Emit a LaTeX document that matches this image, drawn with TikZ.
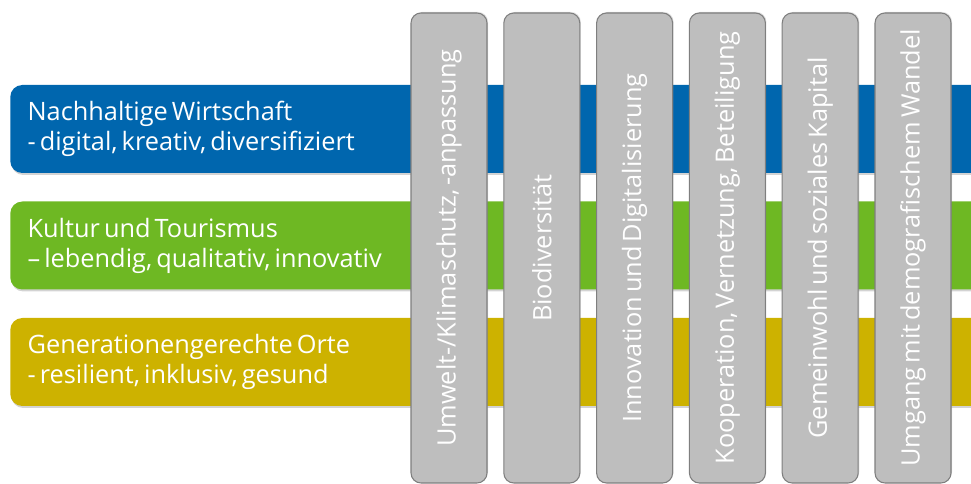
\documentclass[tikz,border=0pt]{standalone}
\usepackage{fontspec}
\setmainfont{Open Sans}[WordSpace=0.6]
\usepackage{xcolor}
\usepackage{tikz}
\usetikzlibrary{shadows, positioning}

\definecolor{bandblue}{HTML}{0066AE}
\definecolor{bandgreen}{HTML}{6EB823}
\definecolor{bandyellow}{HTML}{CDB200}
\definecolor{pillargray}{HTML}{BEBEBE}
\definecolor{pillarline}{HTML}{7F7F7F}

\begin{document}
\begin{tikzpicture}[
    x=0.75pt, y=-0.75pt,
    band/.style={rectangle, rounded corners=9pt, anchor=west, minimum width=740pt, minimum height=66pt,
        text width=714pt, inner xsep=12.75pt, align=left, text=white, font=\fontsize{19}{22.5}\selectfont,
        execute at begin node={\spaceskip=0.16em\relax},
        drop shadow={opacity=0.35, shadow xshift=0.8pt, shadow yshift=-1.5pt}},
    pillar/.style={rectangle, rounded corners=7.5pt, rotate=90, draw=pillarline, line width=0.8pt, fill=pillargray,
        minimum width=352.5pt, minimum height=57pt, text=white, font=\fontsize{19}{22.5}\selectfont,
        drop shadow={opacity=0.25, shadow xshift=0.8pt, shadow yshift=0.8pt}}
]
\useasboundingbox (0,0) rectangle (971,484);

% horizontal bands
\node[band, fill=bandblue] (wirtschaft) at (10,129) {Nachhaltige Wirtschaft\\- digital, kreativ, diversifiziert};
\node[band, fill=bandgreen] (kultur) at (10,245.5) {Kultur und Tourismus\\– lebendig, qualitativ, innovativ};
\node[band, fill=bandyellow] (orte) at (10,362) {Generationengerechte Orte\\- resilient, inklusiv, gesund};

% vertical pillars
\foreach \i/\name/\txt in {0/klima/{Umwelt-/Klimaschutz, -anpassung},
                           1/bio/{Biodiversität},
                           2/digital/{Innovation und Digitalisierung},
                           3/kooperation/{Kooperation, Vernetzung, Beteiligung},
                           4/gemeinwohl/{Gemeinwohl und soziales Kapital},
                           5/demografie/{Umgang mit demografischem Wandel}}
    \node[pillar] (\name) at ({449+92.8*\i},248) {\txt};

\end{tikzpicture}
\end{document}
